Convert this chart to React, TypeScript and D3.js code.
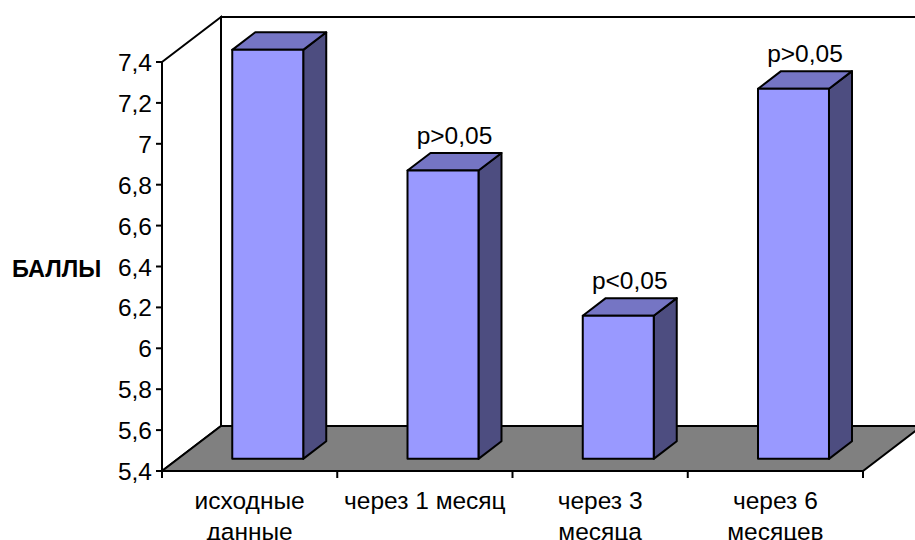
import React from "react";
import * as d3 from "d3";

const categories = [["исходные", "данные"], ["через 1 месяц"], ["через 3", "месяца"], ["через 6", "месяцев"]];
const values = [7.4, 6.81, 6.1, 7.21];
const pLabels = ["", "p>0,05", "p<0,05", "p>0,05"];
const yTicks = [5.4, 5.6, 5.8, 6, 6.2, 6.4, 6.6, 6.8, 7, 7.2, 7.4];
const yTitle = "БАЛЛЫ";

const W = 915, H = 540;
const X0 = 162, X1 = 863;
const DX = 59, DY = -45;
const F1 = 0.27, F2 = 0.66;
const FONT = "Arial, 'Liberation Sans', sans-serif";
const FS = 24.5;

export default function App() {
  const y = d3.scaleLinear().domain([5.4, 7.4]).range([471, 62]);
  const x = d3.scaleBand<number>().domain(categories.map((_, i) => i)).range([X0, X1]).padding(0);
  const bw = x.bandwidth();
  const fmt = (v: number) => String(+v.toFixed(1)).replace(".", ",");
  const P = (px: number, v: number, f: number): [number, number] => [px + f * DX, y(v) + f * DY];
  const pts = (a: [number, number][]) => a.map((p) => p.join(",")).join(" ");
  const base = 5.4;
  const yTop = y.domain()[1];
  const yBot = y.domain()[0];

  return (
    <svg width={W} height={H} style={{ position: "absolute", left: 0, top: 0, background: "#fff" }} fontFamily={FONT}>
      {/* back wall */}
      <polygon points={pts([P(X0, yTop, 1), P(X1 + 200, yTop, 1), P(X1 + 200, yBot, 1), P(X0, yBot, 1)])} fill="#fff" stroke="#000" strokeWidth={2} />
      {/* left wall */}
      <polygon points={pts([P(X0, yTop, 0), P(X0, yTop, 1), P(X0, yBot, 1), P(X0, yBot, 0)])} fill="#fff" stroke="#000" strokeWidth={2} />
      {/* floor */}
      <polygon points={pts([P(X0, yBot, 0), P(X1, yBot, 0), P(X1, yBot, 1), P(X0, yBot, 1)])} fill="#808080" stroke="#000" strokeWidth={2} />
      {/* y ticks */}
      {yTicks.map((t) => (
        <g key={t}>
          <line x1={X0 - 6} x2={X0} y1={y(t)} y2={y(t)} stroke="#000" strokeWidth={2} />
          <text x={X0 - 10} y={y(t) + 9} textAnchor="end" fontSize={FS}>{fmt(t)}</text>
        </g>
      ))}
      <line x1={X0} x2={X0} y1={y(yTop)} y2={y(yBot)} stroke="#000" strokeWidth={2} />
      <line x1={X0} x2={X1} y1={y(yBot)} y2={y(yBot)} stroke="#000" strokeWidth={2} />
      {/* category ticks */}
      {[...categories.map((_, i) => x(i)!), X1].map((cx, i) => (
        <line key={i} x1={cx} x2={cx} y1={y(yBot)} y2={y(yBot) + 7} stroke="#000" strokeWidth={2} />
      ))}
      {/* bars */}
      {values.map((v, i) => {
        const xl = x(i)! + 0.31 * bw;
        const xr = xl + 0.405 * bw;
        const front = pts([P(xl, v, F1), P(xr, v, F1), P(xr, base, F1), P(xl, base, F1)]);
        const top = pts([P(xl, v, F1), P(xr, v, F1), P(xr, v, F2), P(xl, v, F2)]);
        const side = pts([P(xr, v, F1), P(xr, v, F2), P(xr, base, F2), P(xr, base, F1)]);
        const fm = (F1 + F2) / 2;
        const lab = P((xl + xr) / 2, v, fm);
        const backTop = P(xl, v, F2)[1];
        return (
          <g key={i}>
            <polygon points={side} fill="#4D4D80" stroke="#000" strokeWidth={2} strokeLinejoin="round" />
            <polygon points={top} fill="#7575C4" stroke="#000" strokeWidth={2} strokeLinejoin="round" />
            <polygon points={front} fill="#9999FF" stroke="#000" strokeWidth={2} strokeLinejoin="round" />
            {pLabels[i] && (
              <text x={lab[0]} y={backTop - 9} textAnchor="middle" fontSize={FS}>{pLabels[i]}</text>
            )}
          </g>
        );
      })}
      {/* category labels */}
      {categories.map((lines, i) => (
        <text key={i} x={x(i)! + bw / 2} y={509} textAnchor="middle" fontSize={FS}>
          {lines.map((l, j) => (
            <tspan key={j} x={x(i)! + bw / 2} dy={j === 0 ? 0 : 31}>{l}</tspan>
          ))}
        </text>
      ))}
      <text x={12} y={277} fontSize={FS - 1} fontWeight="bold">{yTitle}</text>
    </svg>
  );
}
